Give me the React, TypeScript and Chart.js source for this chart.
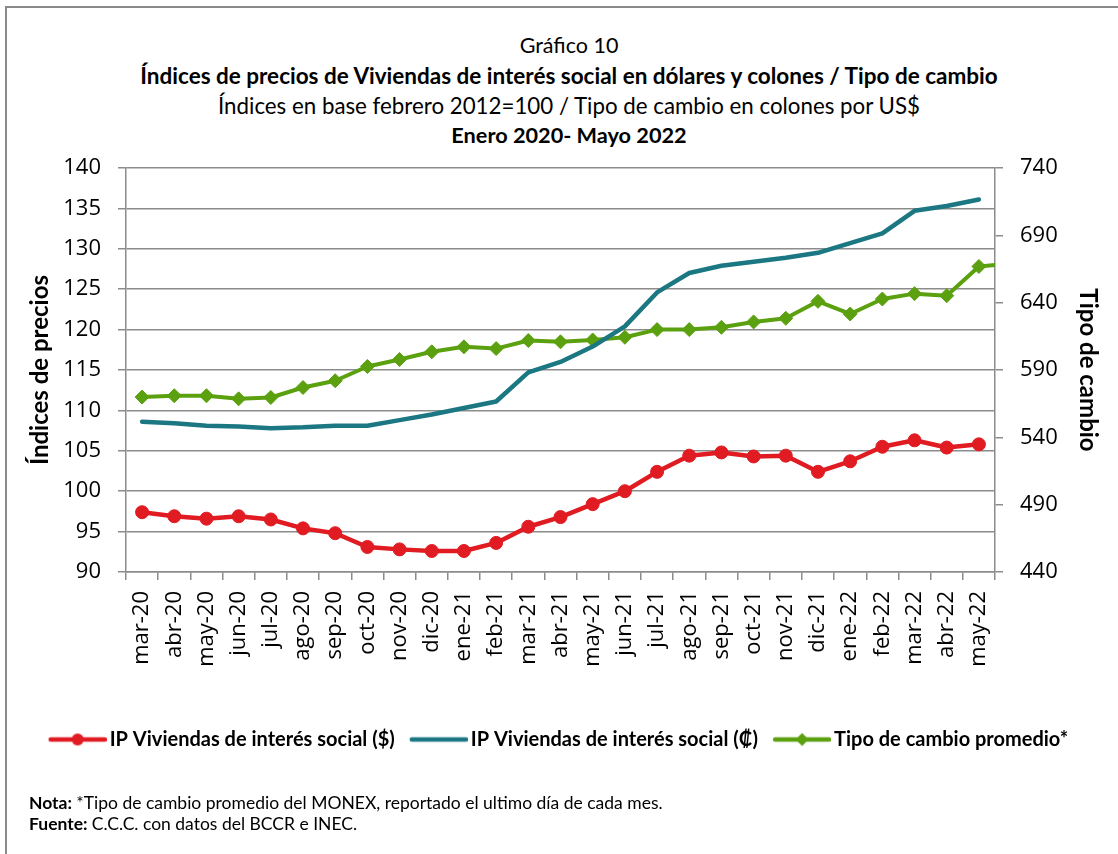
import React, { useEffect, useRef } from 'react';
import { Chart, registerables } from 'chart.js';

Chart.register(...registerables);

// ---- Data ----
const labels = [
  'mar-20', 'abr-20', 'may-20', 'jun-20', 'jul-20', 'ago-20', 'sep-20', 'oct-20', 'nov-20', 'dic-20',
  'ene-21', 'feb-21', 'mar-21', 'abr-21', 'may-21', 'jun-21', 'jul-21', 'ago-21', 'sep-21', 'oct-21',
  'nov-21', 'dic-21', 'ene-22', 'feb-22', 'mar-22', 'abr-22', 'may-22', 'jun-22',
];
const lastShown = 'may-22';

const ipDolares = [
  97.4, 96.9, 96.6, 96.9, 96.5, 95.4, 94.8, 93.1, 92.8, 92.6,
  92.6, 93.6, 95.6, 96.8, 98.4, 100.0, 102.4, 104.4, 104.8, 104.3,
  104.4, 102.4, 103.7, 105.5, 106.3, 105.4, 105.8,
];
const ipColones = [
  108.6, 108.4, 108.1, 108.0, 107.8, 107.9, 108.1, 108.1, 108.8, 109.5,
  110.3, 111.1, 114.7, 116.0, 117.9, 120.4, 124.6, 127.0, 127.9, 128.4,
  128.9, 129.5, 130.7, 131.9, 134.7, 135.3, 136.1,
];
const tipoCambio = [
  569.9, 570.9, 570.9, 568.6, 569.6, 577.0, 582.0, 592.6, 597.8, 603.5,
  607.2, 605.9, 611.9, 610.9, 612.3, 614.3, 620.0, 620.0, 621.7, 625.7,
  628.4, 641.0, 631.6, 642.7, 646.7, 645.2, 666.9, 669.0,
];

const seriesNames = [
  'IP Viviendas de interés social ($)',
  'IP Viviendas de interés social (₡)',
  'Tipo de cambio promedio*',
];

const titleLines = [
  'Gráfico 10',
  'Índices de precios de Viviendas de interés social en dólares y colones / Tipo de cambio',
  'Índices en base febrero 2012=100 / Tipo de cambio en colones por US$',
  'Enero 2020- Mayo 2022',
];
const leftAxisTitle = 'Índices de precios';
const rightAxisTitle = 'Tipo de cambio';

// ---- Styles ----
const RED = '#E01B22';
const TEAL = '#1B7882';
const GREEN = '#5BA00F';
const GRID = '#8C8C8C';
const TEXT_FONT = 'Lato, "Open Sans", sans-serif';
const TICK_FONT = '"Open Sans", Lato, sans-serif';

function legendImage(color: string, marker: 'circle' | 'diamond' | null) {
  const c = document.createElement('canvas');
  c.width = 64;
  c.height = 18;
  const ctx = c.getContext('2d')!;
  ctx.strokeStyle = color;
  ctx.fillStyle = color;
  ctx.lineWidth = 4.5;
  ctx.lineCap = 'round';
  ctx.beginPath();
  ctx.moveTo(8, 9);
  ctx.lineTo(62, 9);
  ctx.stroke();
  const cx = 35;
  if (marker === 'circle') {
    ctx.beginPath();
    ctx.arc(cx, 9, 6, 0, Math.PI * 2);
    ctx.fill();
  } else if (marker === 'diamond') {
    ctx.beginPath();
    ctx.moveTo(cx, 2.5);
    ctx.lineTo(cx + 6.5, 9);
    ctx.lineTo(cx, 15.5);
    ctx.lineTo(cx - 6.5, 9);
    ctx.closePath();
    ctx.fill();
  }
  return c;
}

export default function App() {
  const canvasRef = useRef<HTMLCanvasElement | null>(null);

  useEffect(() => {
    if (!canvasRef.current) return;
    const imgs = [
      legendImage(RED, 'circle'),
      legendImage(TEAL, null),
      legendImage(GREEN, 'diamond'),
    ];
    const tickFont = { family: TICK_FONT, size: 22 };
    const chart = new Chart(canvasRef.current, {
      type: 'line',
      data: {
        labels,
        datasets: [
          {
            label: seriesNames[0],
            data: ipDolares,
            yAxisID: 'y',
            borderColor: RED,
            backgroundColor: RED,
            borderWidth: 4.5,
            pointStyle: 'circle',
            pointRadius: 6.5,
            pointBorderWidth: 1,
            pointBackgroundColor: RED,
            pointBorderColor: RED,
            tension: 0,
            borderJoinStyle: 'round',
            order: 1,
          },
          {
            label: seriesNames[1],
            data: ipColones,
            yAxisID: 'y',
            borderColor: TEAL,
            backgroundColor: TEAL,
            borderWidth: 4.5,
            pointRadius: 0,
            tension: 0,
            borderJoinStyle: 'round',
            borderCapStyle: 'round',
            order: 2,
          },
          {
            label: seriesNames[2],
            data: tipoCambio,
            yAxisID: 'y1',
            borderColor: GREEN,
            backgroundColor: GREEN,
            borderWidth: 4,
            pointStyle: 'rectRot',
            pointRadius: 7,
            pointBorderWidth: 1,
            pointBackgroundColor: GREEN,
            pointBorderColor: GREEN,
            tension: 0,
            borderJoinStyle: 'round',
            clip: { left: 10, top: 10, bottom: 10, right: 0 },
            order: 3,
          },
        ],
      },
      options: {
        animation: false,
        responsive: false,
        layout: { padding: { top: 168, left: 0, right: 0, bottom: 94.5 } },
        plugins: {
          title: { display: false },
          tooltip: { enabled: false },
          legend: {
            display: true,
            position: 'bottom',
            align: 'center',
            labels: {
              usePointStyle: true,
              pointStyleWidth: 50,
              padding: 16,
              color: '#000',
              font: { family: TEXT_FONT, size: 20, weight: 'bold' },
              generateLabels: (ch: any) =>
                ch.data.datasets.map((ds: any, i: number) => ({
                  text: ds.label,
                  pointStyle: imgs[i],
                  fillStyle: ds.borderColor,
                  strokeStyle: ds.borderColor,
                  lineWidth: 0,
                  hidden: false,
                  datasetIndex: i,
                  fontColor: '#000',
                })),
            },
          },
        },
        scales: {
          x: {
            type: 'category',
            offset: true,
            grid: {
              offset: true,
              drawOnChartArea: false,
              drawTicks: true,
              tickLength: 8,
              color: GRID,
              lineWidth: 1.5,
            },
            border: { display: true, color: GRID, width: 1.5 },
            ticks: {
              autoSkip: false,
              minRotation: 90,
              maxRotation: 90,
              padding: 11,
              color: '#000',
              font: tickFont,
            },
            afterDataLimits: (s: any) => {
              s.min = 0;
              s.max = labels.indexOf(lastShown);
            },
            afterFit: (s: any) => {
              s.height = 141.5;
            },
          },
          y: {
            position: 'left',
            min: 90,
            max: 140,
            ticks: { stepSize: 5, padding: 17, color: '#000', font: tickFont },
            grid: { color: GRID, lineWidth: 1.5, tickLength: 8, drawTicks: true },
            border: { display: true, color: GRID, width: 1.5 },
            title: {
              display: true,
              text: leftAxisTitle,
              color: '#000',
              font: { family: TEXT_FONT, size: 24, weight: 'bold', lineHeight: 1.2 },
              padding: { top: 26, bottom: 0 },
            },
            afterFit: (s: any) => {
              s.width = 126;
            },
          },
          y1: {
            position: 'right',
            min: 440,
            max: 740,
            ticks: { stepSize: 50, padding: 17, color: '#000', font: tickFont },
            grid: { drawOnChartArea: false, color: GRID, lineWidth: 1.5, tickLength: 8, drawTicks: true },
            border: { display: true, color: GRID, width: 1.5 },
            title: {
              display: true,
              text: rightAxisTitle,
              color: '#000',
              font: { family: TEXT_FONT, size: 24, weight: 'bold', lineHeight: 0.9 },
              padding: { top: 19, bottom: 0 },
            },
            afterFit: (s: any) => {
              s.width = 123;
            },
          },
        },
      },
    } as any);
    return () => chart.destroy();
  }, []);

  const titleTops = [45, 76, 106, 135];
  const titleBold = [false, true, false, true];
  const titleSizes = [21.5, 22.5, 22.3, 21.7];

  return (
    <div
      style={{
        position: 'absolute',
        left: 0,
        top: 0,
        width: 1118,
        height: 854,
        background: '#fff',
        overflow: 'hidden',
        fontFamily: TEXT_FONT,
        color: '#000',
      }}
    >
      <div
        style={{
          position: 'absolute',
          left: 5,
          top: 6,
          width: 1130,
          height: 870,
          borderTop: '2px solid #8a8a8a',
          borderLeft: '2px solid #8a8a8a',
          boxSizing: 'border-box',
        }}
      />
      {titleLines.map((t, i) => (
        <div
          key={i}
          style={{
            position: 'absolute',
            left: 0,
            width: 1138,
            top: titleTops[i] - 15,
            height: 30,
            lineHeight: '30px',
            textAlign: 'center',
            fontSize: titleSizes[i],
            fontWeight: titleBold[i] ? 700 : 400,
            whiteSpace: 'nowrap',
          }}
        >
          {t}
        </div>
      ))}
      <canvas
        ref={canvasRef}
        width={1118}
        height={854}
        style={{ position: 'absolute', left: 0, top: 0, width: 1118, height: 854 }}
      />
      <div
        style={{
          position: 'absolute',
          left: 29,
          top: 792,
          fontSize: 17.5,
          lineHeight: '21px',
          whiteSpace: 'nowrap',
        }}
      >
        <div>
          <b>Nota: </b>*Tipo de cambio promedio del MONEX, reportado el ultimo día de cada mes.
        </div>
        <div>
          <b>Fuente: </b>C.C.C. con datos del BCCR e INEC.
        </div>
      </div>
    </div>
  );
}
